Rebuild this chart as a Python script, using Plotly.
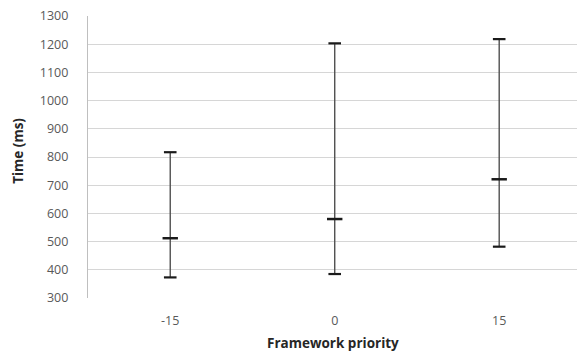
import plotly.graph_objects as go

categories = ["-15", "0", "15"]
min_vals = [373, 385, 482]
avg_vals = [512, 580, 721]
max_vals = [817, 1203, 1218]
y_ticks = list(range(300, 1301, 100))

xs = list(range(len(categories)))
fig = go.Figure()

for i in xs:
    fig.add_trace(go.Scatter(
        x=[i, i], y=[min_vals[i], max_vals[i]], mode="lines",
        line=dict(color="#505050", width=1.4), hoverinfo="skip", showlegend=False))

fig.add_trace(go.Scatter(
    x=xs + xs, y=min_vals + max_vals, mode="markers",
    marker=dict(symbol="line-ew", size=9, line=dict(color="#1a1a1a", width=2.2)),
    showlegend=False))
fig.add_trace(go.Scatter(
    x=xs, y=avg_vals, mode="markers",
    marker=dict(symbol="line-ew", size=11, line=dict(color="#1a1a1a", width=2.5)),
    showlegend=False))

font_family = "Open Sans, Liberation Sans, sans-serif"
fig.update_layout(
    width=577, height=352,
    margin=dict(l=88, r=0, t=16, b=54),
    plot_bgcolor="white", paper_bgcolor="white",
    font=dict(family=font_family, color="#595959", size=12.5),
    xaxis=dict(
        range=[-0.5, 2.473], tickmode="array", tickvals=xs, ticktext=categories,
        showgrid=False, zeroline=False, showline=False, ticks="",
        ticklabelstandoff=13, automargin=False,
        tickfont=dict(size=12.5, color="#595959"),
    ),
    yaxis=dict(
        range=[300, 1300], tickmode="array", tickvals=y_ticks,
        showgrid=True, gridcolor="#d6d6d6", gridwidth=1.4,
        zeroline=False, showline=True, linecolor="#bfbfbf", linewidth=1.3,
        ticks="", ticklabelstandoff=16, automargin=False,
        tickfont=dict(size=12.5, color="#595959"),
    ),
    annotations=[
        dict(text="<b>Time (ms)</b>", xref="paper", yref="paper", x=0, y=0.52,
             xshift=-69.5, textangle=-90, showarrow=False,
             xanchor="center", yanchor="middle",
             font=dict(size=13.5, color="#262626")),
        dict(text="<b>Framework priority</b>", xref="paper", yref="paper", x=0.5, y=0,
             yshift=-45, showarrow=False, xanchor="center", yanchor="middle",
             font=dict(size=13.5, color="#262626")),
    ],
)

fig.write_html(
    "out.html",
    config={"displayModeBar": False},
    post_script="document.body.style.margin='0';document.body.style.overflow='hidden';",
)
